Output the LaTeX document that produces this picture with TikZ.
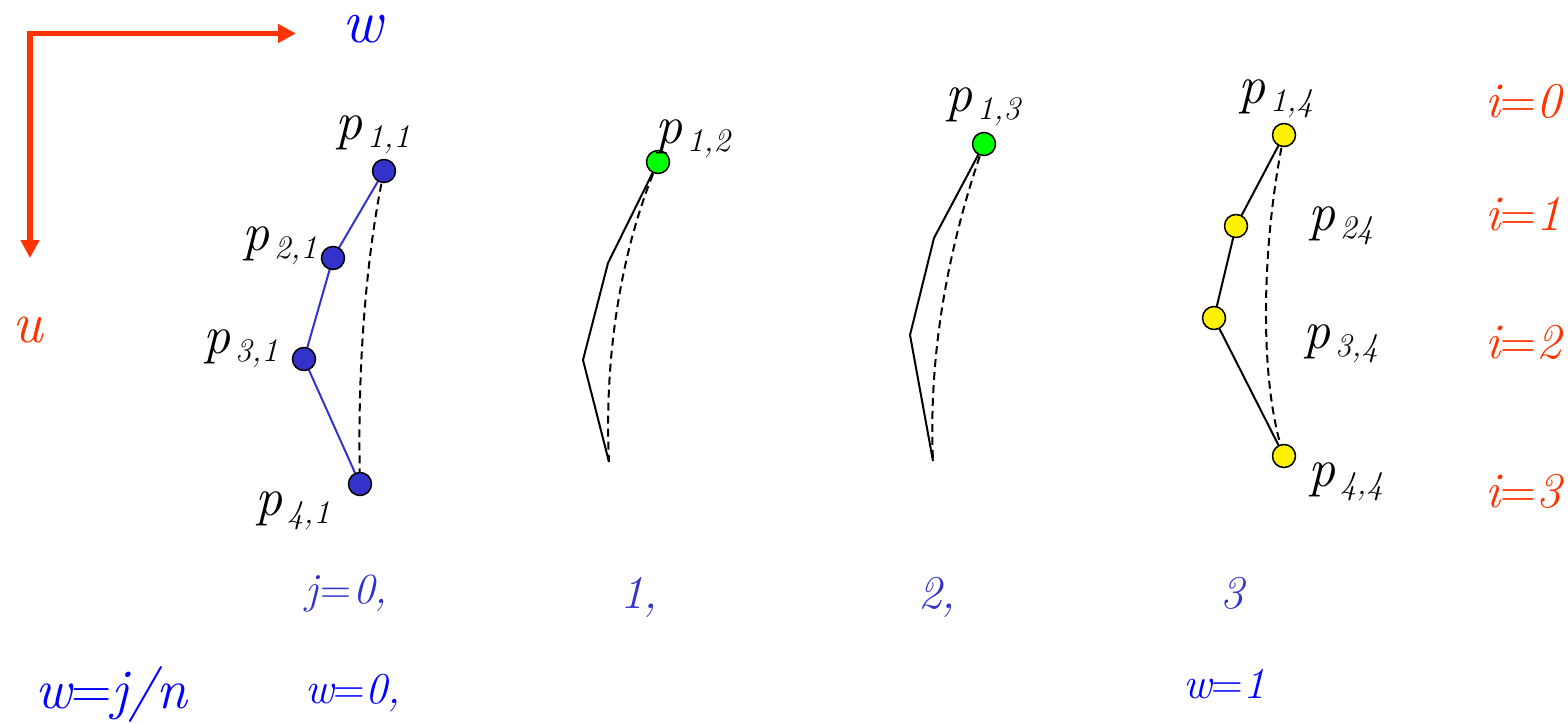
\documentclass[tikz,border=0pt]{standalone}
\usepackage{fontspec}
\usetikzlibrary{arrows.meta,backgrounds}
\definecolor{axred}{RGB}{255,51,0}
\definecolor{dotblue}{RGB}{51,51,204}
\definecolor{wblue}{RGB}{0,0,255}
\definecolor{jblue}{RGB}{51,51,204}
\newcommand\fsz[1]{\fontsize{#1}{#1}\selectfont}
\newcommand\ti{\rmfamily\itshape}
\newcommand\eqs{{\upshape =}}
\newcommand\plab[1]{\ti p\hspace{5pt}\raisebox{-8pt}{\fsz{33}\ti #1}}
\begin{document}
\begin{tikzpicture}[x=1pt,y=-1pt,
  dot/.style={circle,draw=black,line width=1.5pt,minimum size=23pt,inner sep=0pt},
  bluedot/.style={dot,fill=dotblue},
  greendot/.style={dot,fill=green},
  yellowdot/.style={dot,fill=yellow},
  lab/.style={anchor=base west,inner sep=0pt,font=\fsz{54}},
  ilab/.style={anchor=base west,inner sep=0pt,font=\fsz{50},text=axred},
  jlab/.style={anchor=base west,inner sep=0pt,font=\fsz{47},text=jblue},
  wlab/.style={anchor=base west,inner sep=0pt,font=\fsz{44},text=wblue},
  poly/.style={line width=2pt},
  dashc/.style={line width=2pt,dash pattern=on 8pt off 5pt},
  axis/.style={axred,line width=5.5pt,{Triangle[length=18pt,width=18pt]}-{Triangle[length=18pt,width=18pt]}}]
\useasboundingbox (0,0) rectangle (1568,723);

% axes
\coordinate (corner) at (30,33.5);
\coordinate (uend) at (30,258);
\coordinate (wend) at (296,33.5);
\draw[axis] (uend) -- (corner) -- (wend);
\node[anchor=base west,inner sep=0pt,font=\fsz{62},text=wblue,text height=27pt] (wtop) at (342,42) {\ti w};
\node[anchor=base west,inner sep=0pt,font=\fsz{58},text=axred] (ulab) at (12,342) {\ti u};

% column 1
\node[bluedot] (p11) at (384,171) {};
\node[bluedot] (p21) at (333,258) {};
\node[bluedot] (p31) at (304,359) {};
\node[bluedot] (p41) at (360,484) {};
% column 2
\node[greendot] (p12) at (658,162) {};
\coordinate (c2a) at (608,263);
\coordinate (c2b) at (583,360);
\coordinate (c2e) at (609,462);
% column 3
\node[greendot] (p13) at (984,144) {};
\coordinate (c3a) at (934,238);
\coordinate (c3b) at (910,335);
\coordinate (c3e) at (933,461);
% column 4
\node[yellowdot] (p14) at (1284,135) {};
\node[yellowdot] (p24) at (1236,226) {};
\node[yellowdot] (p34) at (1214,318) {};
\node[yellowdot] (p44) at (1284,456) {};

\begin{scope}[on background layer]
\draw[poly,dotblue] (p11.center) -- (p21.center) -- (p31.center) -- (p41.center);
\draw[dashc] (p11.center) .. controls (366,255) and (357,370) .. (p41.center);
\draw[poly] (p12.center) -- (c2a) -- (c2b) -- (c2e);
\draw[dashc] (p12.center) .. controls (620,250) and (604,360) .. (c2e);
\draw[poly] (p13.center) -- (c3a) -- (c3b) -- (c3e);
\draw[dashc] (p13.center) .. controls (950,240) and (928,350) .. (c3e);
\draw[poly] (p14.center) -- (p24.center) -- (p34.center) -- (p44.center);
\draw[dashc] (p14.center) .. controls (1262,240) and (1258,380) .. (p44.center);
\end{scope}

% point labels
\node[lab] (l11) at (335,139) {\plab{1,1}};
\node[lab] (l21) at (242,250) {\plab{2,1}};
\node[lab] (l31) at (203,353) {\plab{3,1}};
\node[lab] (l41) at (255,515) {\plab{4,1}};
\node[lab] (l12) at (655,143) {\plab{1,2}};
\node[lab] (l13) at (945,111) {\plab{1,3}};
\node[lab] (l14) at (1238,103) {\plab{1,4}};
\node[lab] (l24) at (1308,230) {\plab{24}};
\node[lab] (l34) at (1303,348) {\plab{3,4}};
\node[lab] (l44) at (1308,486) {\plab{4,4}};

% i labels
\node[ilab] (i0) at (1485,117) {\ti i\eqs 0};
\node[ilab] (i1) at (1485,230) {\ti i\eqs 1};
\node[ilab] (i2) at (1485,358) {\ti i\eqs 2};
\node[ilab] (i3) at (1485,507) {\ti i\eqs 3};

% j labels
\node[jlab,font=\fsz{43}] (j0) at (305,603) {\ti j\hspace{2pt}\eqs\hspace{2pt}0,};
\node[jlab] (j1) at (620,608) {\ti 1,};
\node[jlab] (j2) at (918,608) {\ti 2,};
\node[jlab] (j3) at (1220,608) {\ti 3};

% w labels
\node[anchor=base west,inner sep=0pt,font=\fsz{56},text=wblue] (wjn) at (35,708) {\ti w\eqs j/n};
\node[wlab] (w0) at (305,703) {\ti w\eqs 0,};
\node[wlab] (w1) at (1183,698) {\ti w\eqs 1};
\end{tikzpicture}
\end{document}
